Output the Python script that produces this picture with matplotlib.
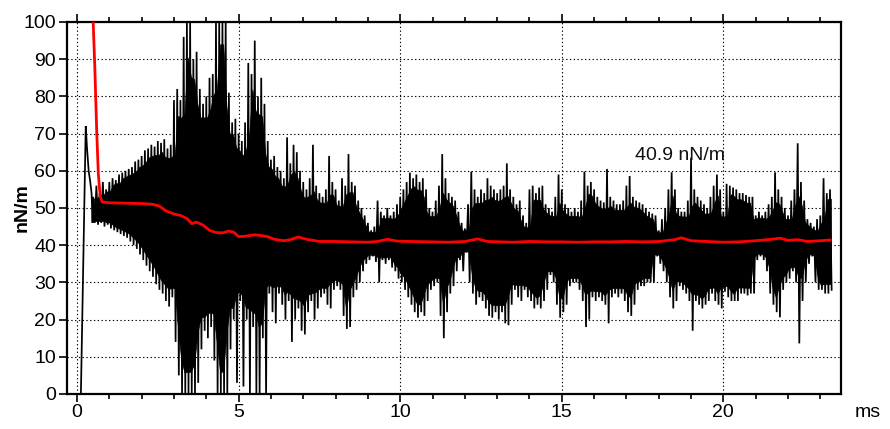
import numpy as np
import matplotlib
matplotlib.use("Agg")
import matplotlib.pyplot as plt
from matplotlib.ticker import MultipleLocator

plt.rcParams['font.family'] = ['Liberation Sans', 'DejaVu Sans']

# ---- data ----
# initial transient of the raw signal (ms, nN/m)
start_t = [0.12, 0.27, 0.31, 0.36, 0.41, 0.45, 0.48]
start_v = [0.0, 72.0, 66.0, 60.0, 57.0, 54.0, 46.0]

# oscillation envelope sampled every 0.1 ms from 0.5 ms to 23.3 ms
env_t0 = 0.5
env_dt = 0.1
upper = [
    53, 56, 54, 57, 55,
    57, 58, 57.5, 59, 59.5, 60, 60.5, 61, 62.5, 63,
    64, 65.5, 66, 67, 66.5, 68, 67.5, 68.5, 66, 67,
    79, 82, 79, 96, 100, 100, 90, 92, 82, 78,
    80, 85, 86, 100, 100, 100, 100, 81, 73, 74,
    70, 68, 73, 89, 86, 95, 80, 85, 78, 68,
    63, 64, 61, 60, 58, 69, 62, 67, 65, 60,
    57, 55, 58, 67, 56, 54, 53, 55, 64, 57,
    55, 52, 58, 56, 64.5, 57, 56, 52, 50, 48,
    46, 44, 45, 52, 49, 48, 50, 48, 49, 51,
    53, 55, 57, 59.5, 58, 59, 57, 58, 55, 50,
    49, 52, 56, 64.5, 58, 54, 53, 52, 49, 46,
    44.5, 51, 59.8, 55, 53, 55, 54, 58, 56, 55,
    54, 55, 56, 62, 55, 53, 51, 52, 48, 46,
    55, 56, 54, 55.5, 56, 51, 50, 49, 53, 59,
    55, 51, 50, 49, 50, 49, 52, 59.8, 56, 57,
    55, 53, 52, 51.5, 60.5, 53, 52, 51, 51, 52,
    56, 58.6, 53, 52, 51.5, 51, 50, 49, 48.5, 48,
    44, 47, 50, 55, 59.6, 55, 50, 49, 49, 52,
    63.5, 55, 53, 52, 51, 50, 53, 56, 59, 55,
    49, 56.5, 56, 55.5, 55, 54, 54, 53.5, 53, 53,
    48, 49, 48, 49, 51, 53, 59.6, 55, 53, 50,
    48, 52, 55, 67.4, 57, 52, 47, 46, 45, 47,
    48, 58, 54, 55,
]
lower = [
    46, 45.5, 46, 45, 45.5,
    44.5, 44, 43.5, 43, 42.5, 42, 41, 40, 39, 37.5,
    36, 34.5, 33, 31.5, 29.5, 28, 27, 25, 23.5, 26,
    14, 5, 0, 0, 0, 0, 0, 3, 12, 17,
    15, 18, 9, 0, 0, 0, 0, 12, 20, 3,
    25, 2, 20, 0, 18, 0, 0, 15, 0, 27,
    22, 19, 27, 24, 20, 25, 14, 20, 23, 17,
    16, 22, 25, 20, 23, 26, 27, 24, 23, 28,
    29, 28, 21, 17.5, 18, 26, 28, 30, 33, 35,
    36, 37, 35.5, 30, 36, 35, 36, 34, 33, 31,
    30, 28, 26, 24, 22, 20.5, 22, 21, 25, 28,
    29, 30, 21, 15, 22, 27, 29, 33, 36, 33,
    38, 30, 27, 24, 26, 25, 23, 21, 20.5, 22,
    20, 22, 19, 18.5, 24, 28, 26, 25, 28, 26,
    25, 23, 24, 23, 25, 28, 32, 30, 24, 20.5,
    22, 24, 29, 30, 30, 28, 25, 18, 20, 26,
    25, 26, 25, 24, 19, 26, 27, 26, 27, 25,
    22, 21, 24, 28, 29, 29, 30, 30, 30, 37,
    35, 33, 30, 26, 23, 25, 29, 28, 27, 25,
    17, 25, 24, 23, 24, 25, 27, 25, 24, 23,
    27.5, 26, 25, 25, 25, 27, 27, 26.5, 27, 27,
    36, 37, 36, 33, 27, 24, 22, 20.6, 28, 30,
    31, 33, 30, 13.6, 25, 30, 35, 37, 30, 28,
    28, 27, 27, 28,
]

# running average (red)
red_t = [0.50, 0.55, 0.61, 0.66, 0.72, 0.78, 1.0, 1.5, 2.0, 2.34, 2.55, 2.76,
         3.0, 3.2, 3.4, 3.55, 3.7, 3.9, 4.1, 4.3, 4.5, 4.7, 4.85, 5.0, 5.2,
         5.5, 5.7, 5.9, 6.1, 6.4, 6.6, 6.85, 7.1, 7.5, 8.0, 8.5, 9.0, 9.3,
         9.6, 9.9, 10.3, 11.0, 11.5, 12.0, 12.4, 12.7, 13.5, 14.0, 14.6,
         15.0, 15.5, 16.0, 16.5, 17.0, 17.5, 18.0, 18.5, 18.7, 19.0, 19.5,
         20.0, 20.5, 21.0, 21.5, 21.75, 22.0, 22.3, 22.6, 23.0, 23.3]
red_v = [100, 88, 70.5, 59, 53, 51.6, 51.4, 51.3, 51.2, 51.0, 50.5, 49.2,
         48.4, 48.0, 47.2, 45.8, 46.2, 45.4, 44.0, 43.4, 43.3, 43.8, 43.5,
         42.3, 42.4, 42.8, 42.6, 42.3, 41.6, 41.2, 41.5, 42.2, 41.6, 41.0,
         41.0, 40.9, 40.8, 41.0, 41.6, 41.1, 41.0, 40.9, 40.8, 41.0, 41.7,
         41.0, 40.8, 41.0, 40.9, 40.9, 40.8, 40.9, 40.9, 41.0, 40.9, 41.0,
         41.5, 42.0, 41.2, 41.0, 40.8, 40.9, 41.2, 41.6, 41.9, 41.3, 41.5,
         41.0, 41.2, 41.4]

annot_text = "40.9 nN/m"
x_ticks = [0, 5, 10, 15, 20]
y_ticks = list(range(0, 101, 10))

# ---- raw trace ----
n = len(upper)
up = np.asarray(upper, float)
lo = np.asarray(lower, float)
env_t = env_t0 + env_dt * np.arange(n)

# zigzag through the read peaks and troughs (individual spikes)
zig_t = np.empty(2 * n)
zig_v = np.empty(2 * n)
zig_t[0::2] = env_t
zig_t[1::2] = env_t + env_dt / 2
zig_v[0::2] = up
zig_v[1::2] = lo
raw_t = np.concatenate([start_t, zig_t])
raw_v = np.concatenate([start_v, zig_v])

# dense solid core of the trace (drawing aid: inner part of the envelope)
pad_up = np.pad(up, 1, mode='edge')
pad_lo = np.pad(lo, 1, mode='edge')
core_up = np.minimum(np.minimum(pad_up[:-2], pad_up[1:-1]), pad_up[2:])
core_lo = np.maximum(np.maximum(pad_lo[:-2], pad_lo[1:-1]), pad_lo[2:])
mid = (up + lo) / 2
shrink = 0.88
core_up = mid + shrink * (core_up - mid)
core_lo = mid + shrink * (core_lo - mid)

W, H = 890, 429
fig = plt.figure(figsize=(W / 100, H / 100), dpi=100)
ax = fig.add_axes([67 / W, 1 - 394 / H, (841 - 67) / W, (394 - 22) / H])

ax.fill_between(env_t + env_dt / 4, core_lo, core_up, color='black', lw=0.5, zorder=2)
ax.plot(raw_t, raw_v, color='black', lw=1.25, solid_joinstyle='miter', zorder=2)
ax.plot(red_t, red_v, color='#ff0000', lw=2.0, zorder=3)

ax.set_xlim(-0.31, 23.64)
ax.set_ylim(0, 100)
ax.set_xticks(x_ticks)
ax.set_yticks(y_ticks)
ax.xaxis.set_minor_locator(MultipleLocator(1))
ax.grid(True, which='major', color='black', linestyle=(0, (1.2, 2.2)), lw=0.8, zorder=1)

for s in ax.spines.values():
    s.set_linewidth(1.6)

ax.tick_params(axis='x', which='both', direction='out', top=True, bottom=True,
               labelsize=14, width=1.2, pad=2)
ax.tick_params(axis='x', which='major', length=5.5)
ax.tick_params(axis='x', which='minor', length=3.5)
ax.tick_params(axis='y', which='major', direction='out', left=True, right=False,
               labelsize=14, width=1.2, length=6, pad=2)

ax.set_ylabel("nN/m", fontsize=14, fontweight='bold')
ax.yaxis.set_label_coords(-0.047, 0.5)
fig.text(868 / W, 1 - 417 / H, "ms", fontsize=14, ha='center', va='baseline')
ax.text(17.28, 62.9, annot_text, fontsize=14, ha='left', va='baseline', color='#111111', zorder=4)

fig.savefig("out.png", dpi=100)
